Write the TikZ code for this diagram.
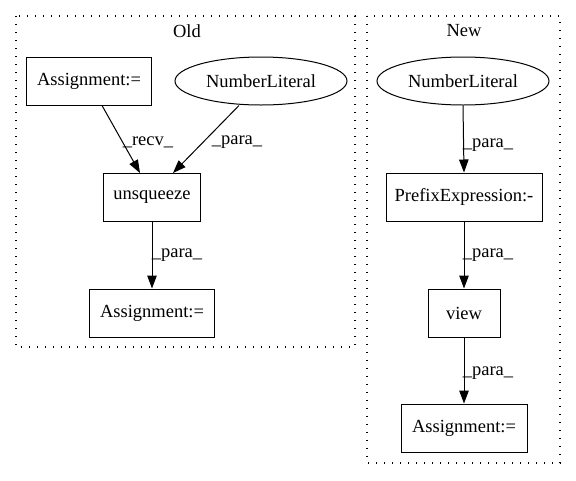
\documentclass[tikz,border=0pt]{standalone}
\usepackage{fontspec}
\setmainfont{Liberation Serif}
\usetikzlibrary{arrows.meta,shapes.geometric}
\begin{document}
\begin{tikzpicture}[x=1pt,y=-1pt,
  box/.style={draw,line width=1pt,rectangle,inner sep=0pt,font=\fontsize{18.5}{22}\selectfont},
  ell/.style={draw,line width=1pt,ellipse,inner sep=0pt,font=\fontsize{18.5}{22}\selectfont},
  edge/.style={draw,line width=1pt,-{Triangle[length=13pt,width=9.5pt]}},
  lab/.style={font=\fontsize{18.5}{22}\selectfont,inner sep=0pt},
  cluster/.style={draw,line width=1.2pt,dash pattern=on 1.2pt off 6.8pt}]
\useasboundingbox (0,0) rectangle (576,480);
% clusters
\draw[cluster] (16,16) rectangle (355,347);
\node[lab] (toldt) at (187,31) {Old};
\draw[cluster] (367,16) rectangle (560,463);
\node[lab] (tnewt) at (464,31) {New};
% Old
\node[box,minimum width=125pt,minimum height=48pt] (oa) at (89,81) {Assignment:=};
\node[ell,minimum width=172pt,minimum height=48pt] (on) at (261,81) {NumberLiteral};
\node[box,minimum width=97pt,minimum height=48pt] (ou) at (152,197) {unsqueeze};
\node[box,minimum width=125pt,minimum height=48pt] (ob) at (152,313) {Assignment:=};
\draw[edge] (oa.south) ++(13,0) coordinate (oas) -- (140,173) coordinate (oue1);
\draw[edge] (on.south) ++(-22,0) -- (173,173);
\draw[edge] (ou) -- (ob);
\node[lab] (l1) at (148,142) {\_recv\_};
\node[lab] (l2) at (237,142) {\_para\_};
\node[lab] (l3) at (177,255) {\_para\_};
% New
\node[ell,minimum width=172pt,minimum height=48pt] (nn) at (463,81) {NumberLiteral};
\node[box,minimum width=156pt,minimum height=48pt] (np) at (464,197) {PrefixExpression:-};
\node[box,minimum width=72pt,minimum height=48pt] (nv) at (464,313) {view};
\node[box,minimum width=126pt,minimum height=48pt] (na) at (464,428) {Assignment:=};
\draw[edge] (nn.south) -- (np.north);
\draw[edge] (np) -- (nv);
\draw[edge] (nv) -- (na);
\node[lab] (l4) at (488,145) {\_para\_};
\node[lab] (l5) at (488,255) {\_para\_};
\node[lab] (l6) at (488,373) {\_para\_};
\end{tikzpicture}
\end{document}
